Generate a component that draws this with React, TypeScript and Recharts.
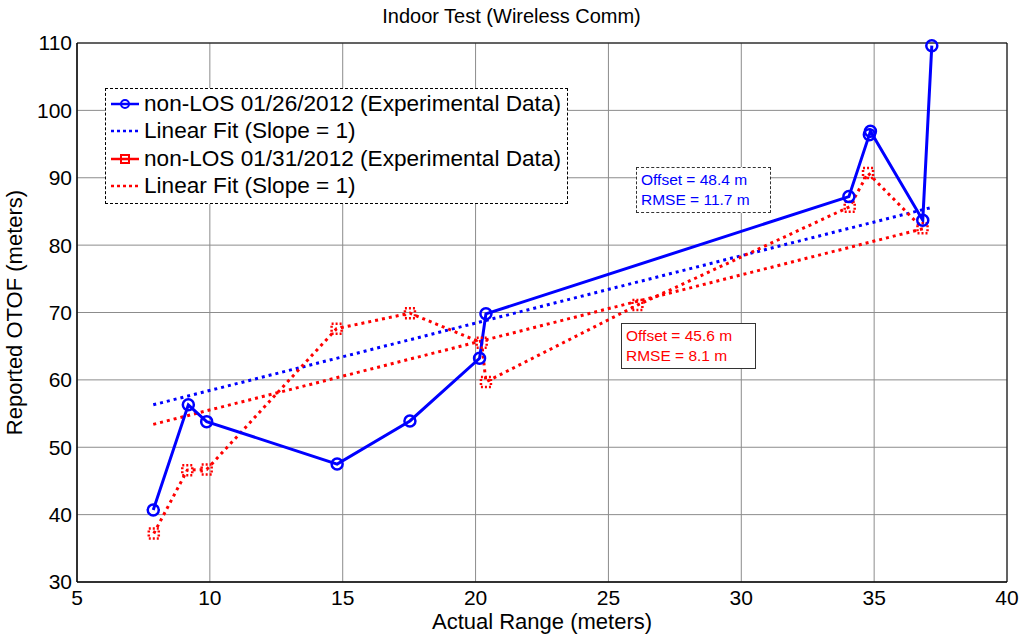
import React from 'react';
import {
  ComposedChart,
  Line,
  XAxis,
  YAxis,
  CartesianGrid,
  ReferenceArea,
  Label,
} from 'recharts';

// values
const blueRange = [7.87, 9.19, 9.88, 14.79, 17.53, 20.15, 20.39, 34.05, 34.82, 34.86, 36.83, 37.17];
const blueOtof = [40.7, 56.3, 53.8, 47.5, 53.9, 63.2, 69.8, 87.2, 96.4, 96.9, 83.7, 109.6];
const redRange = [7.89, 9.15, 9.88, 14.77, 17.53, 20.23, 20.39, 26.09, 34.08, 34.77, 36.82];
const redOtof = [37.2, 46.6, 46.7, 67.6, 69.9, 65.5, 59.7, 71.1, 85.7, 90.7, 82.5];
const blueFitRange = [7.87, 37.17];
const blueFitOtof = [56.3, 85.6];
const redFitRange = [7.87, 36.9];
const redFitOtof = [53.4, 82.5];
const xTicks = [5, 10, 15, 20, 25, 30, 35, 40];
const yTicks = [30, 40, 50, 60, 70, 80, 90, 100, 110];

const BLUE = '#0000ff';
const RED = '#ff0000';
const FONT = '"Liberation Sans", Arial, sans-serif';

const toPoints = (xs: number[], ys: number[]) => xs.map((x, i) => ({ x, y: ys[i] }));

const blueData = toPoints(blueRange, blueOtof);
const redData = toPoints(redRange, redOtof);
const blueFit = toPoints(blueFitRange, blueFitOtof);
const redFit = toPoints(redFitRange, redFitOtof);

const CircleDot = (props: any) => {
  const { cx, cy, index } = props;
  if (cx == null || cy == null) return null;
  return <circle key={index} cx={cx} cy={cy} r={5.5} fill="none" stroke={BLUE} strokeWidth={2.5} />;
};

const SquareDot = (props: any) => {
  const { cx, cy, index } = props;
  if (cx == null || cy == null) return null;
  return (
    <rect
      key={index}
      x={cx - 5}
      y={cy - 5}
      width={10}
      height={10}
      fill="none"
      stroke={RED}
      strokeWidth={2.5}
      strokeDasharray="2 2"
    />
  );
};

const legendItems = [
  { label: 'non-LOS 01/26/2012 (Experimental Data)', color: BLUE, dotted: false, marker: 'circle' },
  { label: 'Linear Fit (Slope = 1)', color: BLUE, dotted: true, marker: null },
  { label: 'non-LOS 01/31/2012 (Experimental Data)', color: RED, dotted: false, marker: 'square' },
  { label: 'Linear Fit (Slope = 1)', color: RED, dotted: true, marker: null },
];

function ChartLegend() {
  return (
    <div
      style={{
        position: 'absolute',
        left: 105,
        top: 88,
        width: 461,
        height: 114,
        border: '1px dashed #000',
        background: '#fff',
        fontFamily: FONT,
        fontSize: 22.6,
        boxSizing: 'content-box',
      }}
    >
      {legendItems.map((item, i) => (
        <div
          key={i}
          style={{ position: 'absolute', left: 4, top: 1 + i * 27.5, height: 27, display: 'flex', alignItems: 'center' }}
        >
          <svg width={31} height={20} style={{ marginRight: 3 }}>
            <line
              x1={1}
              y1={10}
              x2={29}
              y2={10}
              stroke={item.color}
              strokeWidth={2.5}
              strokeDasharray={item.dotted ? '3 3' : undefined}
            />
            {item.marker === 'circle' && <circle cx={15} cy={10} r={4} fill="none" stroke={item.color} strokeWidth={2} />}
            {item.marker === 'square' && (
              <rect x={11} y={6} width={8} height={8} fill="none" stroke={item.color} strokeWidth={2} />
            )}
          </svg>
          <span style={{ color: '#000', whiteSpace: 'nowrap' }}>{item.label}</span>
        </div>
      ))}
    </div>
  );
}

function Note({ left, top, color, border, lines }: { left: number; top: number; color: string; border: string; lines: string[] }) {
  return (
    <div
      style={{
        position: 'absolute',
        left,
        top,
        width: 135,
        height: 46,
        border,
        background: '#fff',
        color,
        fontFamily: FONT,
        fontSize: 15.5,
        lineHeight: '20px',
        padding: '2px 0 0 4px',
        boxSizing: 'border-box',
      }}
    >
      {lines.map((l) => (
        <div key={l}>{l}</div>
      ))}
    </div>
  );
}

export default function App() {
  return (
    <div style={{ position: 'absolute', left: 0, top: 0, width: 1023, height: 634, background: '#fff' }}>
      <div
        style={{
          position: 'absolute',
          left: 0,
          width: 1023,
          top: 5,
          textAlign: 'center',
          fontFamily: FONT,
          fontSize: 20,
          color: '#000',
        }}
      >
        Indoor Test (Wireless Comm)
      </div>
      <ComposedChart width={1023} height={634} margin={{ top: 43, right: 16, bottom: 0, left: 0 }}>
        <CartesianGrid stroke="#8c8c8c" strokeWidth={1} />
        <XAxis
          dataKey="x"
          type="number"
          domain={[5, 40]}
          ticks={xTicks}
          allowDuplicatedCategory={false}
          height={52}
          tickSize={0}
          tickMargin={8}
          axisLine={{ stroke: '#000' }}
          tick={{ fill: '#000', fontSize: 21, fontFamily: FONT }}
        >
          <Label value="Actual Range (meters)" position="insideBottom" offset={5} fill="#000" fontSize={22} fontFamily={FONT} />
        </XAxis>
        <YAxis
          dataKey="y"
          type="number"
          domain={[30, 110]}
          ticks={yTicks}
          width={77}
          tickSize={0}
          tickMargin={5}
          axisLine={{ stroke: '#000' }}
          tick={{ fill: '#000', fontSize: 21, fontFamily: FONT }}
        >
          <Label
            value="Reported OTOF (meters)"
            angle={-90}
            position="insideLeft"
            offset={14}
            style={{ textAnchor: 'middle' }}
            fill="#000"
            fontSize={22}
            fontFamily={FONT}
          />
        </YAxis>
        <ReferenceArea x1={5} x2={40} y1={30} y2={110} fill="none" stroke="#000" strokeWidth={1} />
        <Line
          data={blueFit}
          dataKey="y"
          stroke={BLUE}
          strokeWidth={3}
          strokeDasharray="3 4"
          dot={false}
          isAnimationActive={false}
        />
        <Line
          data={redFit}
          dataKey="y"
          stroke={RED}
          strokeWidth={3}
          strokeDasharray="3 4"
          dot={false}
          isAnimationActive={false}
        />
        <Line
          data={redData}
          dataKey="y"
          stroke={RED}
          strokeWidth={3}
          strokeDasharray="3 4"
          dot={<SquareDot />}
          isAnimationActive={false}
        />
        <Line
          data={blueData}
          dataKey="y"
          stroke={BLUE}
          strokeWidth={3}
          dot={<CircleDot />}
          isAnimationActive={false}
        />
      </ComposedChart>
      <ChartLegend />
      <Note left={636} top={167} color={BLUE} border="1px dashed #333" lines={['Offset = 48.4 m', 'RMSE = 11.7 m']} />
      <Note left={621} top={323} color={RED} border="1px solid #333" lines={['Offset = 45.6 m', 'RMSE = 8.1 m']} />
    </div>
  );
}
